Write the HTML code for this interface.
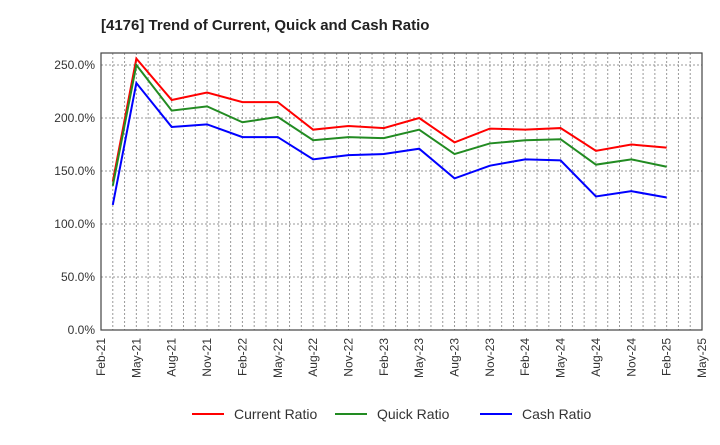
<!DOCTYPE html>
<html><head><meta charset="utf-8"><style>
body{margin:0;background:#fff;font-family:"Liberation Sans",sans-serif}
</style></head><body>
<svg id="c" width="720" height="440" xmlns="http://www.w3.org/2000/svg">
<text x="101" y="30" font-size="15" font-weight="bold" fill="#222">[4176]  Trend of Current, Quick and Cash Ratio</text>
<g id="grid"></g><g id="axes"></g><g id="lines"></g><g id="legend"></g>
</svg>
<script>
const months=["Mar-21","May-21","Aug-21","Nov-21","Feb-22","May-22","Aug-22","Nov-22","Feb-23","May-23","Aug-23","Nov-23","Feb-24","May-24","Aug-24","Nov-24","Feb-25"];
const currentRatio=[140,256,217,224,215,215,189,192.5,190.5,200,177,190,189,190.5,169,175,172];
const quickRatio=[136,250,207,211,196,201,179,182,181,189,166,176,179,180,156,161,154];
const cashRatio=[118,233,191.5,194,182,182,161,165,166,171,143,155,161,160,126,131,125];
const yTicks=[0,50,100,150,200,250];
const xTickLabels=["Feb-21","May-21","Aug-21","Nov-21","Feb-22","May-22","Aug-22","Nov-22","Feb-23","May-23","Aug-23","Nov-23","Feb-24","May-24","Aug-24","Nov-24","Feb-25","May-25"];
const NS="http://www.w3.org/2000/svg";
const L=101,R=702,T=53,B=330,YMAX=250*(B-T)/265;
const MN={Jan:0,Feb:1,Mar:2,Apr:3,May:4,Jun:5,Jul:6,Aug:7,Sep:8,Oct:9,Nov:10,Dec:11};
function mIdx(s){const[m,y]=s.split("-");return (+y-21)*12+MN[m]-1;}
const TOT=mIdx("May-25");
const xs=s=>L+(R-L)*mIdx(s)/TOT;
const ys=v=>B-(B-T)*v/YMAX;
function mk(t,a,p){const e=document.createElementNS(NS,t);for(const k in a)e.setAttribute(k,a[k]);p.appendChild(e);return e;}
const grid=document.getElementById("grid"),axes=document.getElementById("axes"),lines=document.getElementById("lines"),legend=document.getElementById("legend");
for(let i=1;i<TOT;i++){const x=L+(R-L)*i/TOT;const g=mk("line",{x1:x,x2:x,y1:T,y2:B,stroke:"#999","stroke-dasharray":"2,2","stroke-width":1},grid);

}
yTicks.forEach(v=>{const y=ys(v);if(v>0){const g=mk("line",{x1:L,x2:R,y1:y,y2:y,stroke:"#999","stroke-dasharray":"2,2","stroke-width":1},grid);

}
const t=mk("text",{x:L-6,y:y+4,"text-anchor":"end","font-size":12,fill:"#333"},axes);t.textContent=v.toFixed(1)+"%";

});
xTickLabels.forEach(s=>{const x=xs(s);const t=mk("text",{transform:`translate(${x+4},${B+8}) rotate(-90)`,"text-anchor":"end","font-size":12,fill:"#333"},axes);t.textContent=s;

});
const fr=mk("rect",{x:L,y:T,width:R-L,height:B-T,fill:"none",stroke:"#444","stroke-width":1.2},axes);


const series=[["Current Ratio",currentRatio,"#ff0000","current-ratio-line"],["Quick Ratio",quickRatio,"#228b22","quick-ratio-line"],["Cash Ratio",cashRatio,"#0000ff","cash-ratio-line"]];
series.forEach(([n,d,c,id])=>{const p=mk("polyline",{points:d.map((v,i)=>xs(months[i])+","+ys(v)).join(" "),fill:"none",stroke:c,"stroke-width":2},lines);

});
const lx=[192,335,480];
series.forEach(([n,d,c,id],i)=>{const g=mk("g",{},legend);


mk("line",{x1:lx[i],x2:lx[i]+32,y1:414,y2:414,stroke:c,"stroke-width":2},g);
const t=mk("text",{x:lx[i]+42,y:419,"font-size":14,fill:"#333"},g);t.textContent=n;});
</script>
</body></html>
